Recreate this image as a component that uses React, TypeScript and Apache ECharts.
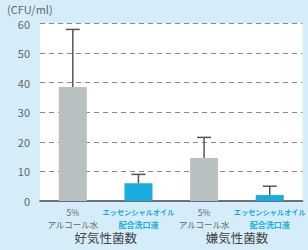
import React, { useEffect, useRef } from "react";
import * as echarts from "echarts";

const categories = ["5%\nアルコール水", "エッセンシャルオイル\n配合洗口液", "5%\nアルコール水", "エッセンシャルオイル\n配合洗口液"];
const groups = ["好気性菌数", "嫌気性菌数"];
const means = [38.5, 6, 14.5, 2];
const upperErr = [58, 9, 21.5, 5];
const yTicks = [0, 10, 20, 30, 40, 50, 60];
const unitLabel = "(CFU/ml)";

const GRAY = "#b9c0c2";
const BLUE = "#1aace0";

export default function App() {
  const ref = useRef<HTMLDivElement>(null);
  useEffect(() => {
    const chart = echarts.init(ref.current!, null, { renderer: "svg" });
    const font = "'Noto Sans CJK JP', 'Noto Sans', sans-serif";
    chart.setOption({
      animation: false,
      backgroundColor: "#d5edf8",
      textStyle: { fontFamily: font },
      grid: { left: 40, right: 0, top: 23.5, bottom: 49, show: true, backgroundColor: "#ffffff", borderWidth: 0 },
      graphic: [
        { type: "text", left: 7, top: 3, style: { text: unitLabel, fontSize: 11, fill: "#666", fontFamily: font } },
      ],
      xAxis: [
        {
          type: "category",
          data: categories,
          axisLine: { lineStyle: { color: "#444", width: 1.5 } },
          axisTick: { show: false },
          axisLabel: {
            interval: 0,
            margin: 5,
            formatter: (v: string, i: number) => {
              const [a, b] = v.split("\n");
              return i % 2 === 0 ? `{g1|${a}}\n{g2|${b}}` : `{b1|${a}}\n{b2|${b}}`;
            },
            rich: {
              g1: { fontSize: 8.5, color: "#666", lineHeight: 12, fontFamily: font },
              g2: { fontSize: 8.5, color: "#666", lineHeight: 12, fontFamily: font },
              b1: { fontSize: 7.2, color: BLUE, fontWeight: "bold", lineHeight: 12, fontFamily: font },
              b2: { fontSize: 8, color: BLUE, fontWeight: "bold", lineHeight: 12, fontFamily: font },
            },
          },
        },
        {
          type: "category",
          data: groups,
          position: "bottom",
          offset: 24,
          axisLine: { show: false },
          axisTick: { show: false },
          axisLabel: { fontSize: 12.5, color: "#444", fontFamily: font, margin: 6 },
        },
      ],
      yAxis: {
        type: "value",
        min: 0,
        max: yTicks[yTicks.length - 1],
        interval: 10,
        axisLine: { show: false },
        axisTick: { show: false },
        axisLabel: { fontSize: 11, color: "#666", margin: 10 },
        splitLine: {
          lineStyle: { color: "#888", type: [5, 4], width: 1 },
          showMinLine: false,
        },
      },
      series: [
        {
          type: "bar",
          barWidth: 28,
          data: means.map((v, i) => ({ value: v, itemStyle: { color: i % 2 === 0 ? GRAY : BLUE } })),
          z: 2,
        },
        {
          type: "custom",
          z: 3,
          data: means.map((v, i) => [i, v, upperErr[i]]),
          renderItem: (params: any, api: any) => {
            const x = api.value(0);
            const lo = api.coord([x, api.value(1)]);
            const hi = api.coord([x, api.value(2)]);
            const hw = 7;
            const style = { stroke: "#555", lineWidth: 1.5 };
            return {
              type: "group",
              children: [
                { type: "line", shape: { x1: lo[0], y1: lo[1], x2: hi[0], y2: hi[1] }, style },
                { type: "line", shape: { x1: hi[0] - hw, y1: hi[1], x2: hi[0] + hw, y2: hi[1] }, style },
              ],
            };
          },
        },
      ],
    });
    return () => chart.dispose();
  }, []);
  return <div ref={ref} style={{ position: "fixed", left: 0, top: 0, width: 308, height: 250 }} />;
}
